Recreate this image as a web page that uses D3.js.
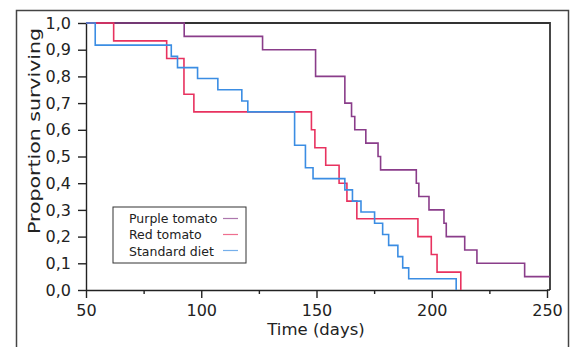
<!DOCTYPE html>
<html>
<head>
<meta charset="utf-8">
<script src="https://cdn.jsdelivr.net/npm/d3@7"></script>
<style>
  body { margin: 0; background: #fff; }
  svg { display: block; }
  text { font-family: "DejaVu Sans", sans-serif; fill: #222; }
</style>
</head>
<body>
<svg></svg>
<script>
// Chart data
const yTicks = [0, 0.1, 0.2, 0.3, 0.4, 0.5, 0.6, 0.7, 0.8, 0.9, 1.0];
const xTicks = [50, 100, 150, 200, 250];
const xMinorTicks = [75, 125, 175, 225];

const seriesNames = ["Purple tomato", "Red tomato", "Standard diet"];
const seriesColors = ["#8a3d8a", "#e8325f", "#3b8de3"];

// step curves: day of each change and the proportion surviving after it
const purpleDays = [50, 92.6, 126.6, 149.6, 162.3, 165.2, 166.6, 171.4, 176.7, 177.8, 193.3, 194.4, 198.8, 205.3, 206.3, 214.3, 219.6, 240.3, 251.2];
const purpleSurv = [1.0, 0.95, 0.90, 0.80, 0.70, 0.65, 0.60, 0.55, 0.50, 0.45, 0.40, 0.35, 0.30, 0.25, 0.20, 0.15, 0.10, 0.05, 0.05];

const redDays = [50, 62, 85, 92.5, 96.8, 147.8, 149.3, 154, 159.8, 163.2, 167.5, 194, 199.8, 202.3, 212.6];
const redSurv = [1.0, 0.933, 0.867, 0.733, 0.667, 0.6, 0.533, 0.467, 0.4, 0.333, 0.267, 0.2, 0.133, 0.067, 0];

const blueDays = [50, 54, 87, 89.7, 98.4, 107.2, 117.6, 120.2, 140.5, 145.2, 148.5, 162.3, 165.6, 169.3, 175.2, 178.7, 181.3, 185.3, 187.4, 190, 210.6];
const blueSurv = [1.0, 0.917, 0.875, 0.833, 0.792, 0.75, 0.708, 0.667, 0.542, 0.458, 0.417, 0.375, 0.333, 0.292, 0.25, 0.208, 0.167, 0.125, 0.083, 0.042, 0];

const width = 576;
const height = 347;

const svg = d3.select("svg")
  .attr("width", width)
  .attr("height", height);

// outer frame
svg.append("rect")
  .attr("x", 16.5).attr("y", 10.5)
  .attr("width", 552).attr("height", 360)
  .attr("fill", "none")
  .attr("stroke", "#444")
  .attr("stroke-width", 1.5);

const x = d3.scaleLinear().domain([50, 250]).range([86, 547]);
const y = d3.scaleLinear().domain([0, 1]).range([290, 23]);

// plot box (top and right)
svg.append("path")
  .attr("d", `M${x(50)},${y(1)}H550V${y(0)}`)
  .attr("fill", "none")
  .attr("stroke", "#333")
  .attr("stroke-width", 1.8);

// y axis
svg.append("g")
  .attr("transform", `translate(${x(50)},0)`)
  .call(d3.axisLeft(y)
    .tickValues(yTicks)
    .tickSize(8)
    .tickSizeOuter(0)
    .tickPadding(7)
    .tickFormat(d => d3.format(".1f")(d).replace(".", ",")));

// x axis
svg.append("g")
  .attr("transform", `translate(0,${y(0)})`)
  .call(d3.axisBottom(x)
    .tickValues(xTicks)
    .tickSize(8)
    .tickSizeOuter(0)
    .tickPadding(7));

svg.append("g")
  .attr("transform", `translate(0,${y(0)})`)
  .call(d3.axisBottom(x).tickValues(xMinorTicks).tickSize(4).tickFormat(""))
  .select(".domain").remove();

svg.append("line")
  .attr("x1", x(250)).attr("x2", 550)
  .attr("y1", y(0)).attr("y2", y(0))
  .attr("stroke", "#222").attr("stroke-width", 1.5);

svg.selectAll(".domain, .tick line")
  .attr("stroke", "#222")
  .attr("stroke-width", 1.4);
svg.selectAll(".tick text")
  .attr("font-size", 16)
  .attr("font-family", "DejaVu Sans, sans-serif")
  .attr("fill", "#222");

// axis titles
svg.append("text")
  .attr("x", 316).attr("y", 335)
  .attr("text-anchor", "middle")
  .attr("font-size", 16.5)
  .text("Time (days)");

svg.append("text")
  .attr("transform", "translate(40,131) rotate(-90)")
  .attr("text-anchor", "middle")
  .attr("font-size", 16)
  .attr("textLength", 206)
  .attr("lengthAdjust", "spacingAndGlyphs")
  .text("Proportion surviving");

// survival curves
const line = d3.line()
  .x(d => x(d[0]))
  .y(d => y(d[1]))
  .curve(d3.curveStepAfter);

const series = [
  d3.zip(purpleDays, purpleSurv),
  d3.zip(redDays, redSurv),
  d3.zip(blueDays, blueSurv)
];

svg.selectAll(".curve")
  .data(series)
  .enter().append("path")
  .attr("class", "curve")
  .attr("d", line)
  .attr("fill", "none")
  .attr("stroke", (d, i) => seriesColors[i])
  .attr("stroke-width", 1.6);

// legend
const legend = svg.append("g");
legend.append("rect")
  .attr("x", 113).attr("y", 207)
  .attr("width", 133).attr("height", 56)
  .attr("fill", "#fff")
  .attr("stroke", "#333")
  .attr("stroke-width", 1);

seriesNames.forEach((name, i) => {
  legend.append("text")
    .attr("x", 129)
    .attr("y", 223 + i * 16.3)
    .attr("font-size", 12.5)
    .text(name);
  legend.append("line")
    .attr("x1", 223).attr("x2", 238)
    .attr("y1", 218.5 + i * 16)
    .attr("y2", 218.5 + i * 16)
    .attr("stroke", seriesColors[i])
    .attr("stroke-opacity", 0.7)
    .attr("stroke-width", 1.2);
});
</script>
</body>
</html>
